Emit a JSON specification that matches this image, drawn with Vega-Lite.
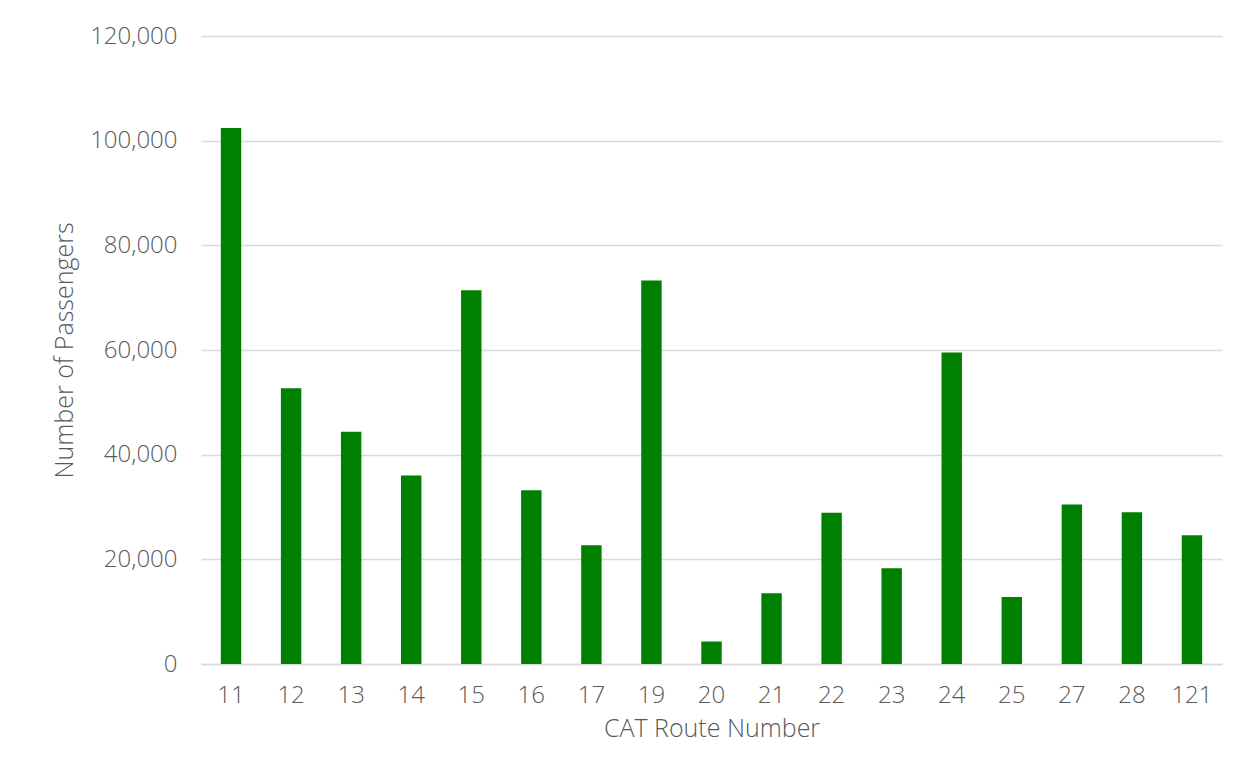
{
  "$schema": "https://vega.github.io/schema/vega-lite/v6.json",
  "autosize": "none",
  "width": 1021,
  "height": 628,
  "padding": {"left": 201, "top": 36, "right": 26, "bottom": 116},
  "background": "#ffffff",
  "config": {
    "view": {"stroke": null},
    "font": "Open Sans"
  },
  "data": {
    "values": [
      {"route": "11", "passengers": 102400},
      {"route": "12", "passengers": 52700},
      {"route": "13", "passengers": 44400},
      {"route": "14", "passengers": 36000},
      {"route": "15", "passengers": 71400},
      {"route": "16", "passengers": 33200},
      {"route": "17", "passengers": 22700},
      {"route": "19", "passengers": 73300},
      {"route": "20", "passengers": 4300},
      {"route": "21", "passengers": 13500},
      {"route": "22", "passengers": 28900},
      {"route": "23", "passengers": 18300},
      {"route": "24", "passengers": 59500},
      {"route": "25", "passengers": 12800},
      {"route": "27", "passengers": 30500},
      {"route": "28", "passengers": 29000},
      {"route": "121", "passengers": 24600}
    ]
  },
  "mark": {"type": "bar", "color": "#008000"},
  "encoding": {
    "x": {
      "field": "route",
      "type": "nominal",
      "sort": null,
      "scale": {"paddingInner": 0.66, "paddingOuter": 0.33},
      "axis": {
        "title": "CAT Route Number",
        "labelAngle": 0,
        "labelFont": "Open Sans",
        "labelFontWeight": 300,
        "labelFontSize": 24,
        "labelColor": "#595959",
        "labelPadding": 19,
        "ticks": false,
        "domain": true,
        "domainColor": "#d9d9d9",
        "domainWidth": 1.5,
        "titleFont": "Open Sans",
        "titleFontWeight": 300,
        "titleFontSize": 25,
        "titleColor": "#595959",
        "titlePadding": 9
      }
    },
    "y": {
      "field": "passengers",
      "type": "quantitative",
      "scale": {"domain": [0, 120000], "nice": false},
      "axis": {
        "title": "Number of Passengers",
        "values": [0, 20000, 40000, 60000, 80000, 100000, 120000],
        "format": ",d",
        "labelFont": "Open Sans",
        "labelFontWeight": 300,
        "labelFontSize": 24,
        "labelColor": "#595959",
        "labelPadding": 24,
        "ticks": false,
        "domain": false,
        "gridColor": "#d9d9d9",
        "gridWidth": 1.5,
        "titleFont": "Open Sans",
        "titleFontWeight": 300,
        "titleFontSize": 25,
        "titleColor": "#595959",
        "titlePadding": 12
      }
    }
  }
}
